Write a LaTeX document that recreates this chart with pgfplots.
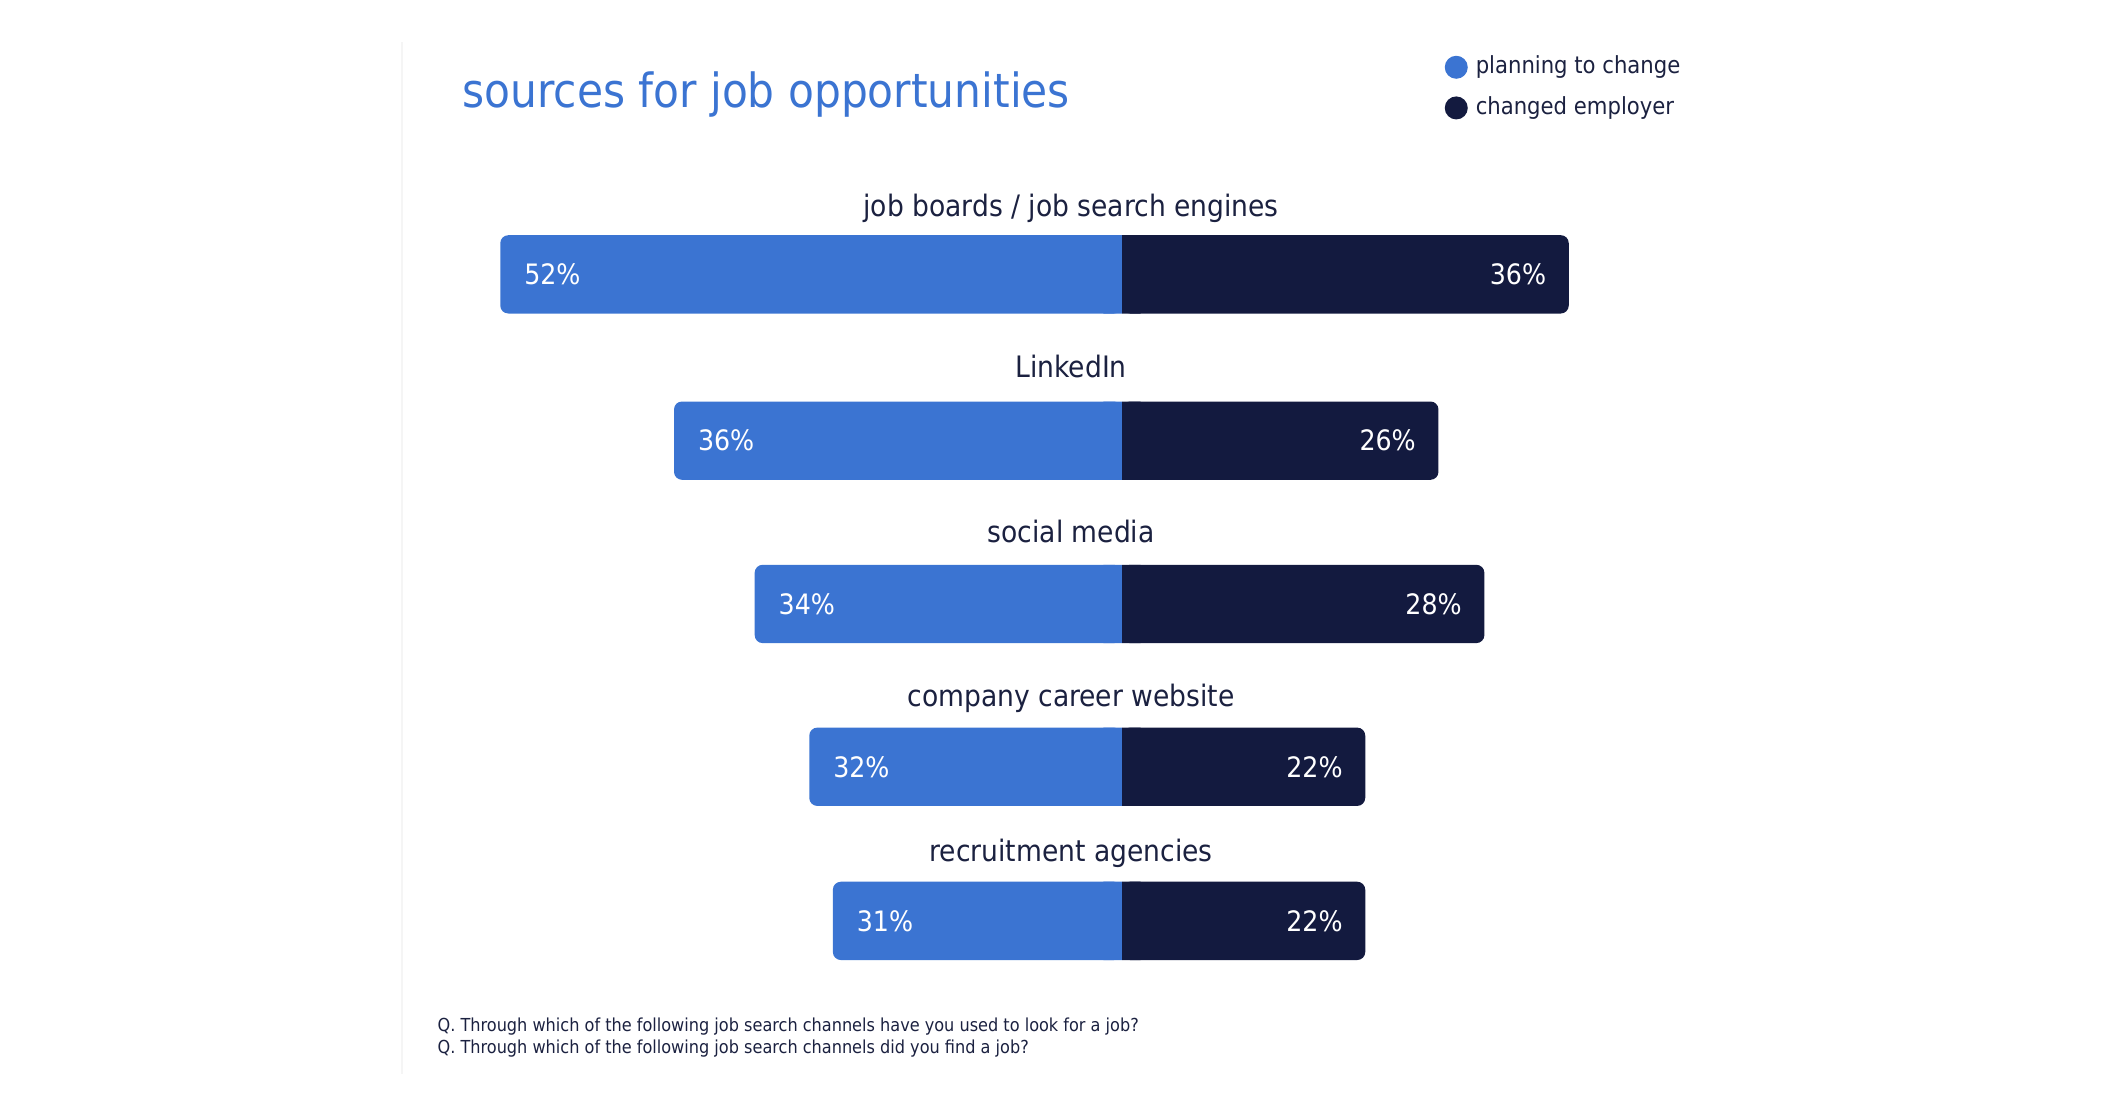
\documentclass[border=0pt]{standalone}
\usepackage{fontspec}
\setmainfont{DejaVu Sans Condensed}
\usepackage{pgfplots}
\usepackage{pgfplotstable}
\pgfplotsset{compat=1.18}
\definecolor{planblue}{HTML}{3B74D2}
\definecolor{navy}{HTML}{131A3F}
\definecolor{ink}{HTML}{1B2140}

% pos: bar centre (px from top), plan/chg: bar lengths as drawn, lbl: printed shares
\pgfplotstableread{
pos   plan   chg   planlbl chglbl
274.5 -50.1  36.0  52      36
440.9 -36.1  25.5  36      26
604.3 -29.6  29.2  34      28
767.2 -25.2  19.6  32      22
921.4 -23.3  19.6  31      22
}\jobdata

\begin{document}
\begin{tikzpicture}
\begin{axis}[
  name=ax, hide axis, clip=false,
  x=0.1241cm, y=0.01cm, y dir=reverse,
  xmin=-90.41, xmax=80.74, ymin=0, ymax=1100,
  legend cell align=left,
  legend style={at={(axis cs:25.95,55)}, anchor=north west, draw=none, fill=none,
    inner sep=0pt, font=\fontsize{6.7}{8}\selectfont, text=ink, row sep=0.175cm,
    nodes={inner sep=0pt},
    /tikz/every odd column/.append style={column sep=0.08cm}},
]
\addplot[xbar, bar shift=0pt, bar width=0.783cm, fill=planblue, draw=none, rounded corners=0.08cm,
  point meta=explicit symbolic, nodes near coords={\pgfplotspointmeta\%},
  every node near coord/.append style={anchor=west, xshift=0.233cm, text=white,
    font=\fontsize{8}{9}\selectfont, inner sep=0pt},
  legend image code/.code={\fill[planblue] (0.115cm,0cm) circle (0.115cm);}]
  table[x=plan, y=pos, meta=planlbl] {\jobdata};
\addlegendentry{planning to change}
\addplot[xbar, bar shift=0pt, bar width=0.783cm, fill=navy, draw=none, rounded corners=0.08cm,
  point meta=explicit symbolic, nodes near coords={\pgfplotspointmeta\%},
  every node near coord/.append style={anchor=east, xshift=-0.22cm, text=white,
    font=\fontsize{8}{9}\selectfont, inner sep=0pt},
  legend image code/.code={\fill[navy] (0.115cm,0cm) circle (0.115cm);}]
  table[x=chg, y=pos, meta=chglbl] {\jobdata};
\addlegendentry{changed employer}
% square off the inner ends where the two halves meet
\addplot[xbar, bar shift=0pt, bar width=0.783cm, fill=planblue, draw=none, sharp corners, forget plot]
  coordinates {(-1.5,274.5) (-1.5,440.9) (-1.5,604.3) (-1.5,767.2) (-1.5,921.4)};
\addplot[xbar, bar shift=0pt, bar width=0.783cm, fill=navy, draw=none, sharp corners, forget plot]
  coordinates {(1.5,274.5) (1.5,440.9) (1.5,604.3) (1.5,767.2) (1.5,921.4)};

\draw[black!4, line width=0.02cm] (axis cs:-58,42) -- (axis cs:-58,1075);

\node[anchor=base west, inner sep=0pt, text=planblue, font=\fontsize{13.4}{16}\selectfont]
  at (axis cs:-53.2,108) {sources for job opportunities};

\begin{scope}[every node/.style={anchor=base, inner sep=0pt, text=ink, font=\fontsize{8.4}{10}\selectfont}]
\node at (axis cs:-4.1,217) {job boards / job search engines};
\node at (axis cs:-4.1,378) {LinkedIn};
\node at (axis cs:-4.1,543) {social media};
\node at (axis cs:-4.1,707) {company career website};
\node at (axis cs:-4.1,862) {recruitment agencies};
\end{scope}

\begin{scope}[every node/.style={anchor=base west, inner sep=0pt, text=ink, font=\fontsize{5.1}{6}\selectfont}]
\node at (axis cs:-55.2,1032) {Q. Through which of the following job search channels have you used to look for a job?};
\node at (axis cs:-55.2,1054) {Q. Through which of the following job search channels did you find a job?};
\end{scope}
\end{axis}
\pgfresetboundingbox
\path (ax.south west) rectangle (ax.north east);
\end{tikzpicture}
\end{document}
